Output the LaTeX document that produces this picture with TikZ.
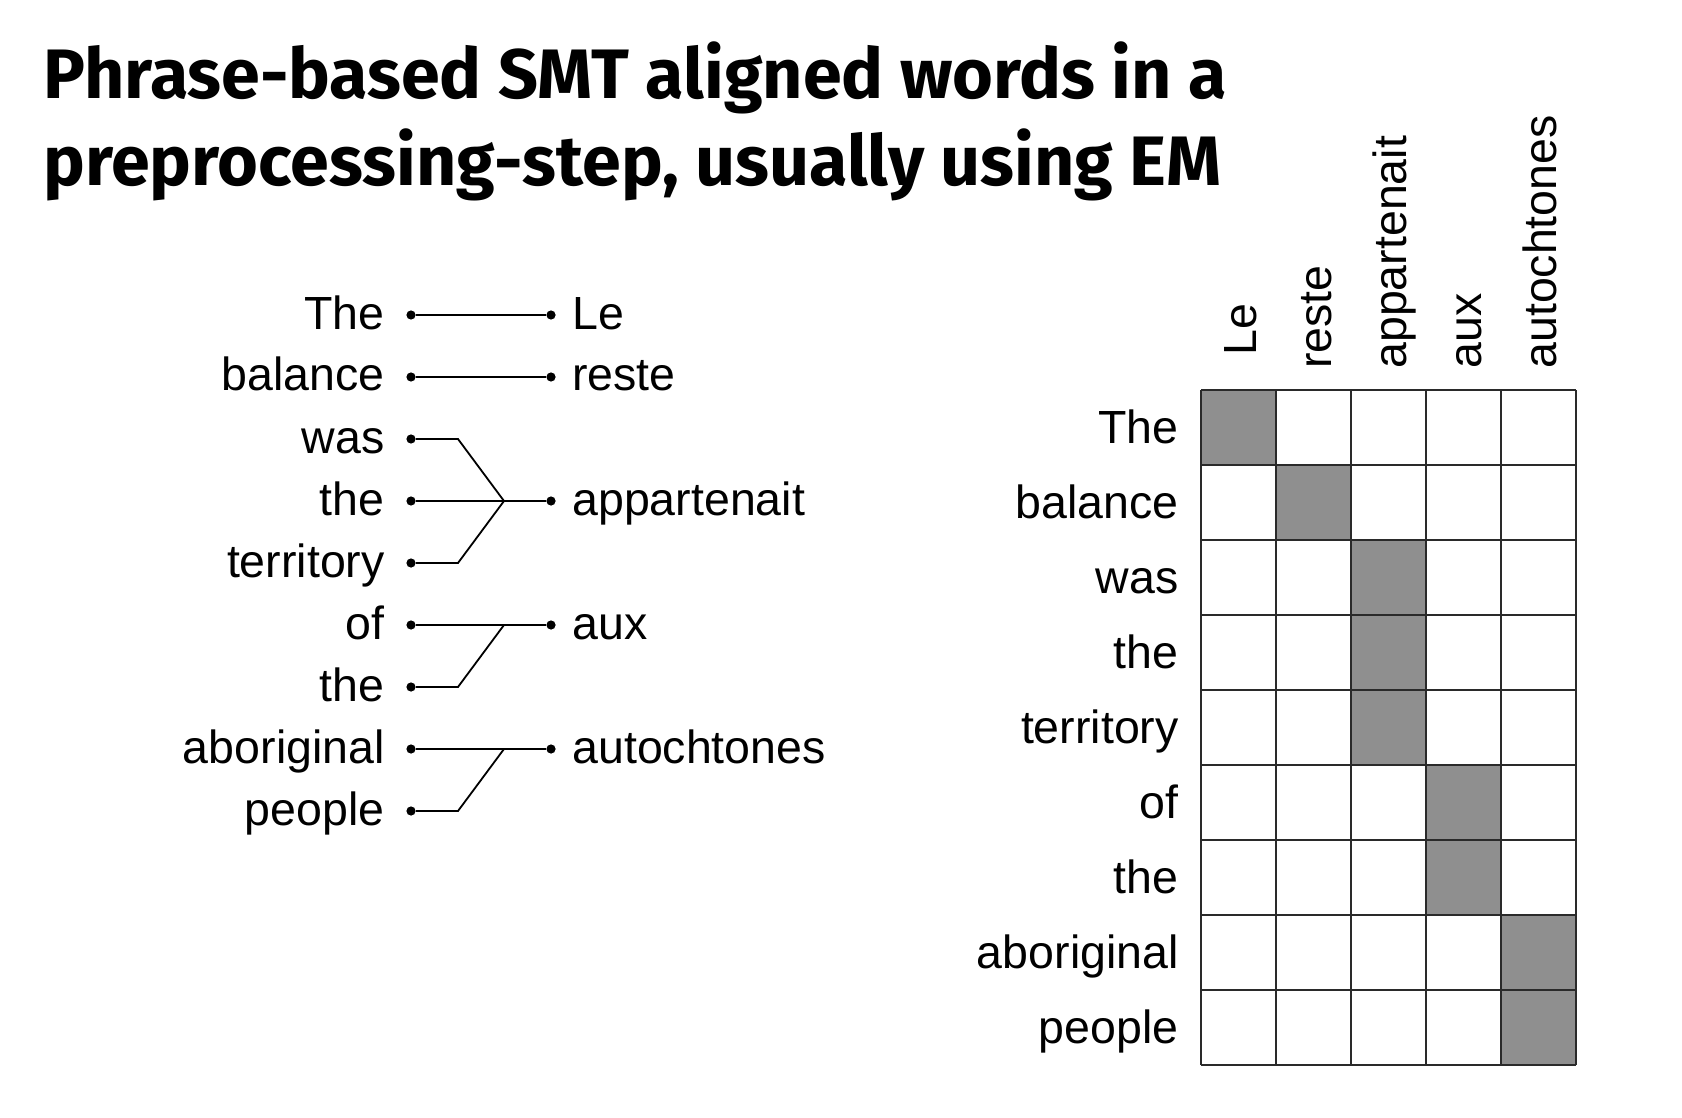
\documentclass[tikz,border=0pt]{standalone}
\usepackage{fontspec}
\setmainfont{Liberation Sans}
\newfontfamily\titlefont{Fira Sans}
\usepackage{xcolor}
\usepackage{tikz}
\usetikzlibrary{positioning}

\definecolor{cellgray}{HTML}{8F8F8F}
\definecolor{gridline}{HTML}{2A2A2A}

\tikzset{
  word/.style={font=\fontsize{23.25}{28}\selectfont, inner sep=0pt},
  srcword/.style={word, anchor=base east},
  tgtword/.style={word, anchor=base west},
  colword/.style={word, rotate=90, anchor=base west},
  headline/.style={font=\titlefont\bfseries\fontsize{35}{43}\selectfont, inner sep=0pt, anchor=base west},
  dot/.style={circle, fill, inner sep=0pt, minimum size=4.6pt},
  link/.style={line width=0.9pt}
}

\begin{document}
\begin{tikzpicture}[x=0.5pt, y=-0.5pt]
\useasboundingbox (0,0) rectangle (1682,1118);
\node[headline] (title1) at (43,99) {Phrase-based SMT aligned words in a};
\node[headline] (title2) at (43,186) {preprocessing-step, usually using EM};
% source side
\foreach \w [count=\i] in {The, balance, was, the, territory, of, the, aboriginal, people} {
  \node[dot] (s\i) at (411, {253+62*\i}) {};
  \node[srcword] (sw\i) at (385, {267+62*\i}) {\w};
}
% target side
\foreach \w/\k [count=\i] in {Le/1, reste/2, appartenait/4, aux/6, autochtones/8} {
  \node[dot] (t\i) at (551, {253+62*\k}) {};
  \node[tgtword] (tw\i) at (572, {267+62*\k}) {\w};
}
\coordinate (j1) at (504, 501);
\coordinate (j2) at (504, 625);
\coordinate (j3) at (504, 749);
\draw[link] (s1) -- (t1);
\draw[link] (s2) -- (t2);
\draw[link] (s3) -- ++(47,0) -- (j1) -- (t3);
\draw[link] (s4) -- (t3);
\draw[link] (s5) -- ++(47,0) -- (j1);
\draw[link] (s6) -- (t4);
\draw[link] (s7) -- ++(47,0) -- (j2);
\draw[link] (s8) -- (t5);
\draw[link] (s9) -- ++(47,0) -- (j3);
% alignment matrix
\foreach \r/\c in {1/1, 2/2, 3/3, 4/3, 5/3, 6/4, 7/4, 8/5, 9/5}
  \fill[cellgray] ({1201+75*(\c-1)}, {390+75*(\r-1)}) rectangle ++(75,75);
\foreach \c in {0,...,5}
  \draw[gridline, line width=1.4pt] ({1201+75*\c}, 390) -- ({1201+75*\c}, 1065);
\foreach \r in {0,...,9}
  \draw[gridline, line width=1.4pt] (1201, {390+75*\r}) -- (1576, {390+75*\r});
\foreach \w [count=\i] in {The, balance, was, the, territory, of, the, aboriginal, people}
  \node[srcword] (rw\i) at (1179, {368.5+75*\i}) {\w};
\foreach \w/\y [count=\j] in {Le/356, reste/369, appartenait/369, aux/369, autochtones/369}
  \node[colword] (cw\j) at ({1181.5+75*\j}, \y) {\w};
\end{tikzpicture}
\end{document}
